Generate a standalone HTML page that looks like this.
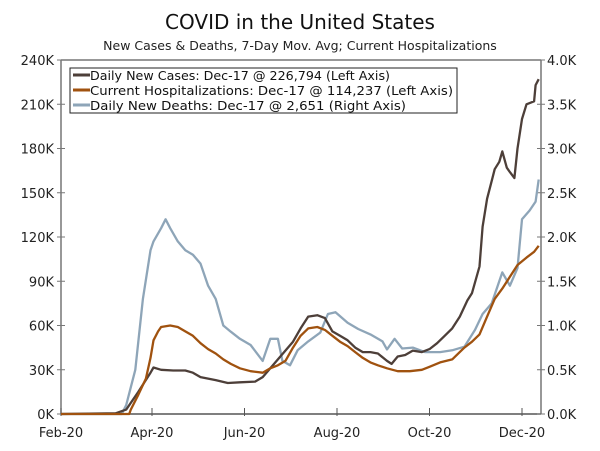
<!DOCTYPE html>
<html><head><meta charset="utf-8"><style>
body{margin:0;background:#fff;}
svg{display:block;font-family:"DejaVu Sans","Liberation Sans",sans-serif;}
</style></head><body>
<svg id="chart" width="600" height="451" viewBox="0 0 600 451">
<text x="300" y="29" text-anchor="middle" font-size="20" fill="#111">COVID in the United States</text>
<text x="300" y="50" text-anchor="middle" font-size="12.5" fill="#222">New Cases &amp; Deaths, 7-Day Mov. Avg; Current Hospitalizations</text>
<g id="axes"></g>
<g id="series"></g>
<g>
<rect x="70" y="68" width="387" height="45" fill="#fff" stroke="#222" stroke-width="1"/>
<line x1="73" y1="75" x2="90" y2="75" stroke="#4d3f39" stroke-width="3"/>
<text x="90" y="80" font-size="12" fill="#111" textLength="300" lengthAdjust="spacingAndGlyphs">Daily New Cases: Dec-17 @ 226,794 (Left Axis)</text>
<line x1="73" y1="90" x2="90" y2="90" stroke="#a0520f" stroke-width="3"/>
<text x="90" y="95" font-size="12" fill="#111" textLength="363" lengthAdjust="spacingAndGlyphs">Current Hospitalizations: Dec-17 @ 114,237 (Left Axis)</text>
<line x1="73" y1="105" x2="90" y2="105" stroke="#8ea5b8" stroke-width="3"/>
<text x="90" y="110" font-size="12" fill="#111" textLength="316" lengthAdjust="spacingAndGlyphs">Daily New Deaths: Dec-17 @ 2,651 (Right Axis)</text>
</g>
</svg>
<script>
const leftTicks=[0,30,60,90,120,150,180,210,240];
const leftTickLabels=["0K","30K","60K","90K","120K","150K","180K","210K","240K"];
const rightTickLabels=["0.0K","0.5K","1.0K","1.5K","2.0K","2.5K","3.0K","3.5K","4.0K"];
const xTickDays=[0,60,121,182,243,304];
const xTickLabels=["Feb-20","Apr-20","Jun-20","Aug-20","Oct-20","Dec-20"];
const casesDays=[0,36,43,51,59,61,66,74,82,87,92,102,110,118,128,133,138,143,148,153,158,163,169,174,179,184,189,194,199,204,209,215,218,222,227,232,238,243,248,253,258,263,268,271,276,278,281,284,286,289,291,294,296,299,301,304,307,312,313,315];
const casesK=[0,0.5,3,15,28,31.5,30,29.5,29.5,28,25,23,21,21.5,22,25,31,37,43,49,58,66,67,65,56,53,50,45,42,42,41,36,34,39,40,43,42,44,48,53,58,66,77,82,100,127,146,158,166,171,178,167,164,160,180,200,210,212,223,227];
const hospDays=[0,45,46,51,56,59,61,64,66,72,77,82,87,92,97,102,107,112,118,125,133,138,143,148,153,158,163,169,174,179,184,189,194,199,204,209,215,222,230,238,243,250,258,266,271,276,281,286,291,296,301,307,312,315];
const hospK=[0,0,3,13,24,38,50,56,59,60,59,56,53,48,44,41,37,34,31,29,28,31,33,36,45,53,58,59,57,53,49,46,42,38,35,33,31,29,29,30,32,35,37,45,49,54,66,78,85,93,101,106,110,114];
const deathDays=[0,40,43,49,54,59,61,66,69,72,77,82,87,92,97,102,107,112,118,125,133,138,143,146,151,156,163,171,176,181,189,196,204,212,215,220,225,232,240,250,258,266,273,278,284,291,296,301,304,309,313,315];
const deathsK=[0,0,0.1,0.5,1.3,1.85,1.95,2.1,2.2,2.1,1.95,1.85,1.8,1.7,1.45,1.3,1.0,0.93,0.85,0.78,0.6,0.85,0.85,0.6,0.55,0.72,0.82,0.92,1.13,1.15,1.03,0.96,0.9,0.82,0.73,0.85,0.74,0.75,0.7,0.7,0.72,0.76,0.95,1.13,1.25,1.6,1.45,1.65,2.2,2.3,2.4,2.65];

const X0=61,X1=541,Y0=414,Y1=60;
function xs(d){return X0+d*(522-61)/304;}
function yl(v){return Y0-(v/240)*(Y0-Y1);}
function yr(v){return Y0-(v/4)*(Y0-Y1);}
const NS="http://www.w3.org/2000/svg";
const axes=document.getElementById('axes'),series=document.getElementById('series');
function mk(tag,attrs,parent,txt){const e=document.createElementNS(NS,tag);for(const k in attrs)e.setAttribute(k,attrs[k]);if(txt!==undefined)e.textContent=txt;parent.appendChild(e);return e;}
let e;
e=mk('line',{x1:X0,y1:Y1,x2:X0,y2:Y0,stroke:'#777','stroke-width':1.5},axes);


e=mk('line',{x1:X1,y1:Y1,x2:X1,y2:Y0,stroke:'#777','stroke-width':1.5},axes);


e=mk('line',{x1:X0,y1:Y1,x2:X1,y2:Y1,stroke:'#777','stroke-width':1.5},axes);


e=mk('line',{x1:X0,y1:Y0,x2:X1,y2:Y0,stroke:'#555','stroke-width':1.5},axes);


leftTicks.forEach((v,i)=>{
  const y=yl(v);
  mk('line',{x1:X0-4,y1:y,x2:X0+4,y2:y,stroke:'#777'},axes);
  e=mk('text',{x:X0-7,y:y+5,'text-anchor':'end','font-size':13,fill:'#222'},axes,leftTickLabels[i]);
  
  
  mk('line',{x1:X1-4,y1:y,x2:X1+4,y2:y,stroke:'#777'},axes);
  e=mk('text',{x:X1+6,y:y+5,'text-anchor':'start','font-size':13,fill:'#222'},axes,rightTickLabels[i]);
  
  
});
xTickDays.forEach((d,i)=>{
  const x=xs(d);
  mk('line',{x1:x,y1:Y0-6,x2:x,y2:Y0+2,stroke:'#555'},axes);
  e=mk('text',{x:x,y:Y0+23,'text-anchor':'middle','font-size':13,fill:'#222'},axes,xTickLabels[i]);
  
  
});
function line(days,vals,ys,color,name){
  const pts=days.map((d,i)=>xs(d).toFixed(1)+','+ys(vals[i]).toFixed(1)).join(' ');
  const p=mk('polyline',{points:pts,fill:'none',stroke:color,'stroke-width':2.3,'stroke-linejoin':'round'},series);
  
  
}
line(casesDays,casesK,yl,'#4d3f39','cases-line');
line(hospDays,hospK,yl,'#a0520f','hospitalizations-line');
line(deathDays,deathsK,yr,'#8ea5b8','deaths-line');
series.insertBefore(series.lastChild,series.firstChild);
</script>
</body></html>
